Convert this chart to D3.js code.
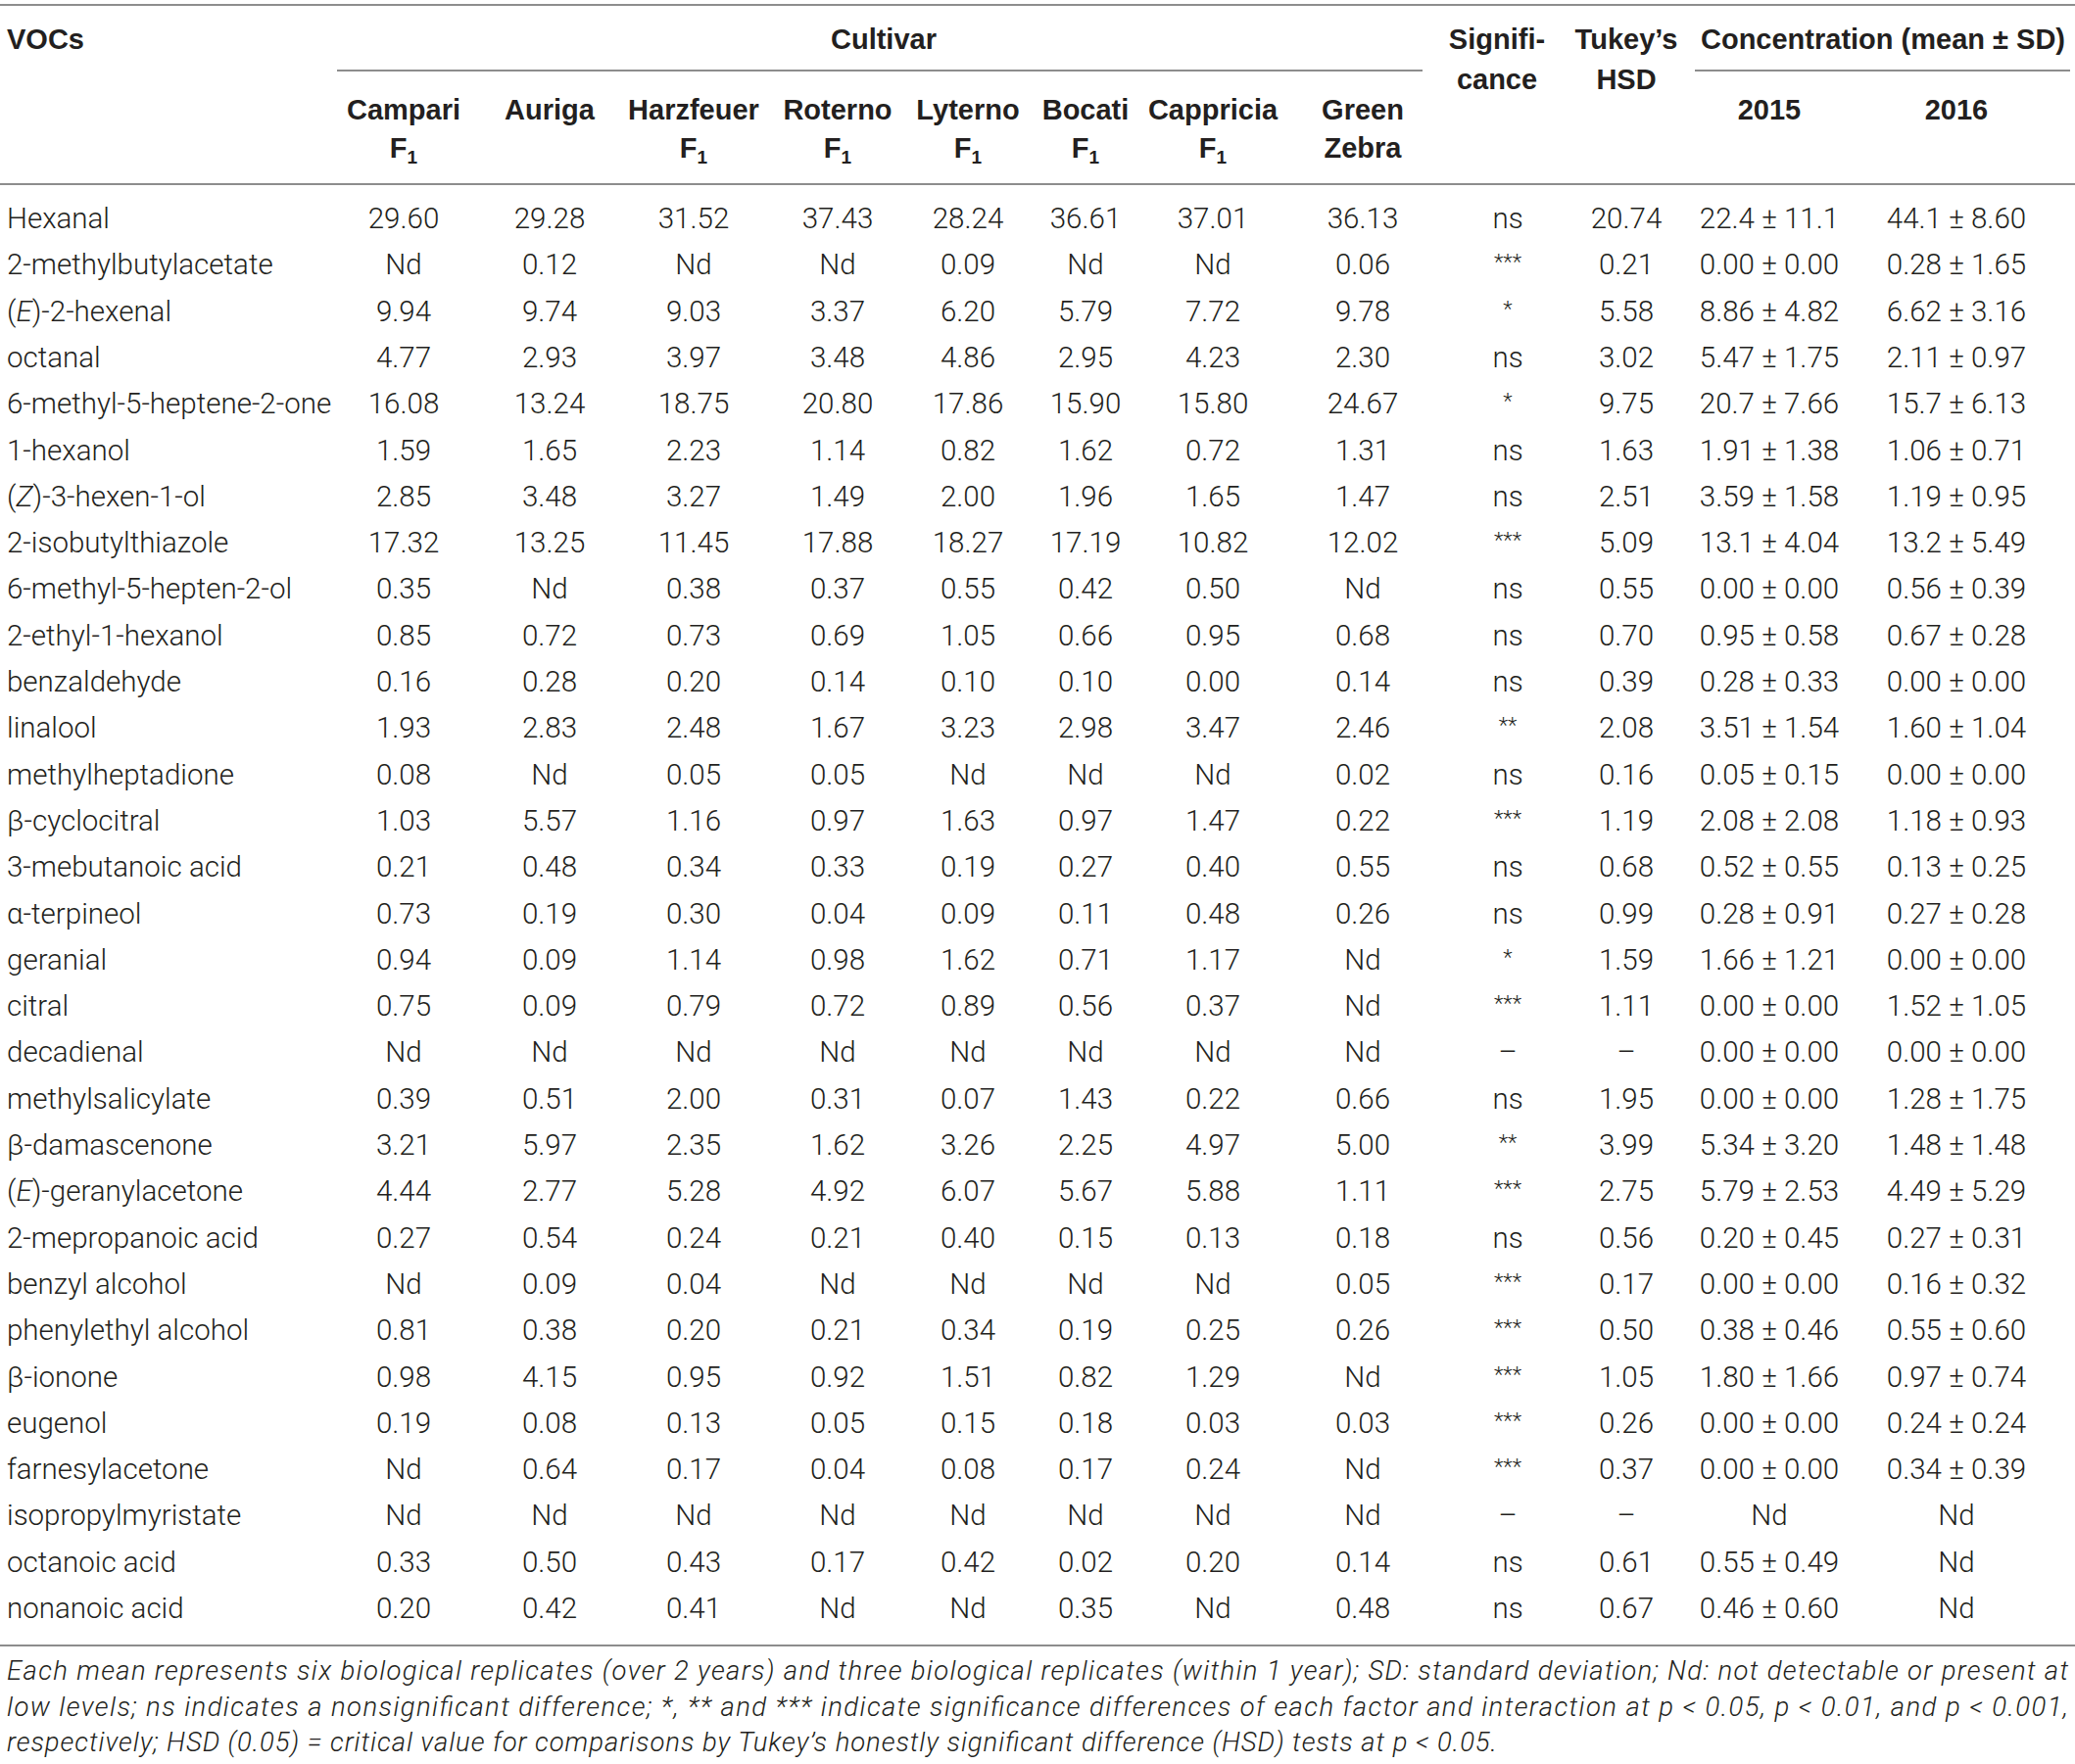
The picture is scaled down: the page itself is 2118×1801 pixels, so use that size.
<!DOCTYPE html>
<html>
<head>
<meta charset="utf-8">
<script src="https://cdn.jsdelivr.net/npm/d3@7"></script>
<style>
  body { margin: 0; background: #fff; }
  svg text { font-family: Roboto, "Liberation Sans", Arial, sans-serif; fill: #231f20; }
  svg .head text { font-family: "Liberation Sans", Arial, sans-serif; }
</style>
</head>
<body>
<div id="chart"></div>
<script>
// Row labels (compounds)
const vocs = [
  "Hexanal", "2-methylbutylacetate", "(E)-2-hexenal", "octanal", "6-methyl-5-heptene-2-one",
  "1-hexanol", "(Z)-3-hexen-1-ol", "2-isobutylthiazole", "6-methyl-5-hepten-2-ol", "2-ethyl-1-hexanol",
  "benzaldehyde", "linalool", "methylheptadione", "β-cyclocitral", "3-mebutanoic acid",
  "α-terpineol", "geranial", "citral", "decadienal", "methylsalicylate",
  "β-damascenone", "(E)-geranylacetone", "2-mepropanoic acid", "benzyl alcohol", "phenylethyl alcohol",
  "β-ionone", "eugenol", "farnesylacetone", "isopropylmyristate", "octanoic acid", "nonanoic acid"
];

// Cultivar headers: [first line, second line, subscript on second line?]
const cultivars = [
  ["Campari", "F", "1"], ["Auriga", "", ""], ["Harzfeuer", "F", "1"], ["Roterno", "F", "1"],
  ["Lyterno", "F", "1"], ["Bocati", "F", "1"], ["Cappricia", "F", "1"], ["Green", "Zebra", ""]
];

// Cultivar values, one array per column
const campari = ["29.60","Nd","9.94","4.77","16.08","1.59","2.85","17.32","0.35","0.85","0.16","1.93","0.08","1.03","0.21","0.73","0.94","0.75","Nd","0.39","3.21","4.44","0.27","Nd","0.81","0.98","0.19","Nd","Nd","0.33","0.20"];
const auriga = ["29.28","0.12","9.74","2.93","13.24","1.65","3.48","13.25","Nd","0.72","0.28","2.83","Nd","5.57","0.48","0.19","0.09","0.09","Nd","0.51","5.97","2.77","0.54","0.09","0.38","4.15","0.08","0.64","Nd","0.50","0.42"];
const harzfeuer = ["31.52","Nd","9.03","3.97","18.75","2.23","3.27","11.45","0.38","0.73","0.20","2.48","0.05","1.16","0.34","0.30","1.14","0.79","Nd","2.00","2.35","5.28","0.24","0.04","0.20","0.95","0.13","0.17","Nd","0.43","0.41"];
const roterno = ["37.43","Nd","3.37","3.48","20.80","1.14","1.49","17.88","0.37","0.69","0.14","1.67","0.05","0.97","0.33","0.04","0.98","0.72","Nd","0.31","1.62","4.92","0.21","Nd","0.21","0.92","0.05","0.04","Nd","0.17","Nd"];
const lyterno = ["28.24","0.09","6.20","4.86","17.86","0.82","2.00","18.27","0.55","1.05","0.10","3.23","Nd","1.63","0.19","0.09","1.62","0.89","Nd","0.07","3.26","6.07","0.40","Nd","0.34","1.51","0.15","0.08","Nd","0.42","Nd"];
const bocati = ["36.61","Nd","5.79","2.95","15.90","1.62","1.96","17.19","0.42","0.66","0.10","2.98","Nd","0.97","0.27","0.11","0.71","0.56","Nd","1.43","2.25","5.67","0.15","Nd","0.19","0.82","0.18","0.17","Nd","0.02","0.35"];
const cappricia = ["37.01","Nd","7.72","4.23","15.80","0.72","1.65","10.82","0.50","0.95","0.00","3.47","Nd","1.47","0.40","0.48","1.17","0.37","Nd","0.22","4.97","5.88","0.13","Nd","0.25","1.29","0.03","0.24","Nd","0.20","Nd"];
const greenZebra = ["36.13","0.06","9.78","2.30","24.67","1.31","1.47","12.02","Nd","0.68","0.14","2.46","0.02","0.22","0.55","0.26","Nd","Nd","Nd","0.66","5.00","1.11","0.18","0.05","0.26","Nd","0.03","Nd","Nd","0.14","0.48"];

const significance = ["ns","***","*","ns","*","ns","ns","***","ns","ns","ns","**","ns","***","ns","ns","*","***","–","ns","**","***","ns","***","***","***","***","***","–","ns","ns"];
const tukeyHSD = ["20.74","0.21","5.58","3.02","9.75","1.63","2.51","5.09","0.55","0.70","0.39","2.08","0.16","1.19","0.68","0.99","1.59","1.11","–","1.95","3.99","2.75","0.56","0.17","0.50","1.05","0.26","0.37","–","0.61","0.67"];
const conc2015 = ["22.4 ± 11.1","0.00 ± 0.00","8.86 ± 4.82","5.47 ± 1.75","20.7 ± 7.66","1.91 ± 1.38","3.59 ± 1.58","13.1 ± 4.04","0.00 ± 0.00","0.95 ± 0.58","0.28 ± 0.33","3.51 ± 1.54","0.05 ± 0.15","2.08 ± 2.08","0.52 ± 0.55","0.28 ± 0.91","1.66 ± 1.21","0.00 ± 0.00","0.00 ± 0.00","0.00 ± 0.00","5.34 ± 3.20","5.79 ± 2.53","0.20 ± 0.45","0.00 ± 0.00","0.38 ± 0.46","1.80 ± 1.66","0.00 ± 0.00","0.00 ± 0.00","Nd","0.55 ± 0.49","0.46 ± 0.60"];
const conc2016 = ["44.1 ± 8.60","0.28 ± 1.65","6.62 ± 3.16","2.11 ± 0.97","15.7 ± 6.13","1.06 ± 0.71","1.19 ± 0.95","13.2 ± 5.49","0.56 ± 0.39","0.67 ± 0.28","0.00 ± 0.00","1.60 ± 1.04","0.00 ± 0.00","1.18 ± 0.93","0.13 ± 0.25","0.27 ± 0.28","0.00 ± 0.00","1.52 ± 1.05","0.00 ± 0.00","1.28 ± 1.75","1.48 ± 1.48","4.49 ± 5.29","0.27 ± 0.31","0.16 ± 0.32","0.55 ± 0.60","0.97 ± 0.74","0.24 ± 0.24","0.34 ± 0.39","Nd","Nd","Nd"];

const footnote = [
  "Each mean represents six biological replicates (over 2 years) and three biological replicates (within 1 year); SD: standard deviation; Nd: not detectable or present at",
  "low levels; ns indicates a nonsignificant difference; *, ** and *** indicate significance differences of each factor and interaction at p < 0.05, p < 0.01, and p < 0.001,",
  "respectively; HSD (0.05) = critical value for comparisons by Tukey’s honestly significant difference (HSD) tests at p < 0.05."
];

// Page size
const width = 2118;
const height = 1801;

const cultivarValues = [campari, auriga, harzfeuer, roterno, lyterno, bocati, cappricia, greenZebra];
const columnKeys = ["c0","c1","c2","c3","c4","c5","c6","c7","sig","hsd","y2015","y2016"];

// Column centres
const xScale = d3.scaleOrdinal()
  .domain(columnKeys)
  .range([412, 561, 708, 855, 988, 1108, 1238, 1391, 1539, 1660, 1806, 1997]);

// Row baselines
const yScale = d3.scaleLinear()
  .domain([0, vocs.length - 1])
  .range([233, 1652]);

const ruleColor = "#8d8d8d";
const fontSize = 29.5;
const headSize = 29;

const svg = d3.select("#chart")
  .append("svg")
  .attr("width", width)
  .attr("height", height)
  .attr("viewBox", `0 0 ${width} ${height}`);

// Rules
const rules = [
  { x1: 0, x2: width, y: 5 },
  { x1: 344, x2: 1452, y: 72 },
  { x1: 1730, x2: 2113, y: 72 },
  { x1: 0, x2: width, y: 188 },
  { x1: 0, x2: width, y: 1680 }
];
svg.append("g").selectAll("line")
  .data(rules)
  .join("line")
  .attr("x1", d => d.x1)
  .attr("x2", d => d.x2)
  .attr("y1", d => d.y)
  .attr("y2", d => d.y)
  .attr("stroke", ruleColor)
  .attr("stroke-width", 2);

// Header
const header = svg.append("g")
  .attr("class", "head")
  .attr("font-weight", "bold")
  .attr("font-size", headSize);

const sigHeadX = 1528;
header.append("text").attr("x", 7).attr("y", 50).text("VOCs");
header.append("text").attr("x", 902).attr("y", 50).attr("text-anchor", "middle").text("Cultivar");
header.append("text").attr("x", sigHeadX).attr("y", 50).attr("text-anchor", "middle").text("Signifi-");
header.append("text").attr("x", sigHeadX).attr("y", 91).attr("text-anchor", "middle").text("cance");
header.append("text").attr("x", xScale("hsd")).attr("y", 50).attr("text-anchor", "middle").text("Tukey’s");
header.append("text").attr("x", xScale("hsd")).attr("y", 91).attr("text-anchor", "middle").text("HSD");
header.append("text").attr("x", 1922).attr("y", 50).attr("text-anchor", "middle").text("Concentration (mean ± SD)");
header.append("text").attr("x", xScale("y2015")).attr("y", 122).attr("text-anchor", "middle").text("2015");
header.append("text").attr("x", xScale("y2016")).attr("y", 122).attr("text-anchor", "middle").text("2016");

const cultHead = header.selectAll("g.cult")
  .data(cultivars)
  .join("g")
  .attr("class", "cult")
  .attr("text-anchor", "middle")
  .attr("transform", (d, i) => `translate(${xScale(columnKeys[i])},0)`);

cultHead.append("text").attr("y", 122).text(d => d[0]);
const second = cultHead.append("text").attr("y", 161);
second.append("tspan").text(d => d[1]);
second.filter(d => d[2]).append("tspan")
  .attr("font-size", 19)
  .attr("dy", 6)
  .text(d => d[2]);

// Body
const body = svg.append("g")
  .attr("font-size", fontSize)
  .attr("font-weight", 300);

// Compound names, italic stereo descriptor
const names = body.selectAll("text.voc")
  .data(vocs)
  .join("text")
  .attr("class", "voc")
  .attr("x", 7)
  .attr("y", (d, i) => yScale(i));

names.each(function(d) {
  const t = d3.select(this);
  const m = d.match(/^\((E|Z)\)(.*)$/);
  if (m) {
    t.append("tspan").text("(");
    t.append("tspan").attr("font-style", "italic").text(m[1]);
    t.append("tspan").text(")" + m[2]);
  } else {
    t.text(d);
  }
});

// Cultivar value columns
cultivarValues.forEach((vals, c) => {
  body.append("g")
    .attr("text-anchor", "middle")
    .selectAll("text")
    .data(vals)
    .join("text")
    .attr("x", xScale(columnKeys[c]))
    .attr("y", (d, i) => yScale(i))
    .text(d => d);
});

// Significance column (stars are small and raised)
body.append("g")
  .attr("text-anchor", "middle")
  .selectAll("text")
  .data(significance)
  .join("text")
  .attr("x", xScale("sig"))
  .attr("y", (d, i) => d.startsWith("*") ? yScale(i) - 5 : yScale(i))
  .attr("font-size", d => d.startsWith("*") ? 22 : fontSize)
  .text(d => d);

[["hsd", tukeyHSD], ["y2015", conc2015], ["y2016", conc2016]].forEach(([key, vals]) => {
  body.append("g")
    .attr("text-anchor", "middle")
    .selectAll("text")
    .data(vals)
    .join("text")
    .attr("x", xScale(key))
    .attr("y", (d, i) => yScale(i))
    .text(d => d);
});

// Footnote (first two lines justified, last one set to its printed width)
svg.append("g")
  .attr("font-size", 27.5)
  .attr("font-weight", 300)
  .attr("font-style", "italic")
  .selectAll("text")
  .data(footnote)
  .join("text")
  .attr("x", 7)
  .attr("y", (d, i) => [1715, 1752, 1788][i])
  .attr("textLength", (d, i) => i < 2 ? 2104 : 1521)
  .attr("lengthAdjust", "spacing")
  .text(d => d);
</script>
</body>
</html>
